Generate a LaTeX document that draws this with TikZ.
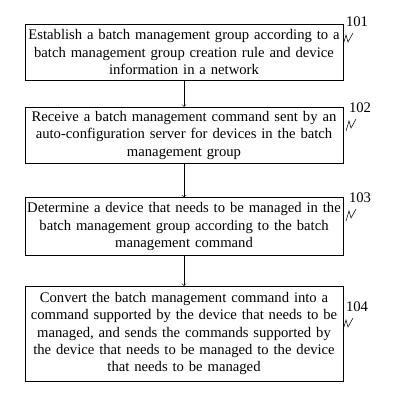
\documentclass[tikz,border=0pt]{standalone}
\usepackage{fontspec}
\setmainfont{Liberation Serif}
\usetikzlibrary{positioning}
\tikzset{
    stepbox/.style={
        draw,
        thin,
        inner sep=0pt,
        text width=236pt,
        minimum width=238.5pt,
        align=center,
        font=\fontsize{11}{13}\selectfont
    },
    line/.style={
        ->,
        thin
    },
    reflabel/.style={
        font=\fontsize{11}{13}\selectfont,
        inner sep=0pt
    }
}

\begin{document}
\begin{tikzpicture}[x=0.75pt, y=-0.75pt]
    \useasboundingbox (0,0) rectangle (400,402);

    \node[stepbox, minimum height=42pt] (establish) at (184,52)
        {Establish a batch management group according to a\\
         batch management group creation rule and device\\
         information in a network};
    \node[stepbox, minimum height=42pt, below=20pt of establish] (receive)
        {Receive a batch management command sent by an\\
         auto-configuration server for devices in the batch\\
         management group};
    \node[stepbox, minimum height=43.5pt, below=25.5pt of receive] (determine)
        {Determine a device that needs to be managed in the\\
         batch management group according to the batch\\
         management command};
    \node[stepbox, minimum height=71.25pt, below=22.5pt of determine] (convert)
        {Convert the batch management command into a\\
         command supported by the device that needs to be\\
         managed, and sends the commands supported by\\
         the device that needs to be managed to the device\\
         that needs to be managed};

    \draw[line] (establish) -- (receive);
    \draw[line] (receive) -- (determine);
    \draw[line] (determine) -- (convert);

    % reference numerals
    \node[reflabel] (n101) at (357,22) {101};
    \node[reflabel] (n102) at (360,108) {102};
    \node[reflabel] (n103) at (360,198) {103};
    \node[reflabel] (n104) at (357,307) {104};

    \foreach \n in {n101,n102,n103,n104}
        \draw[thin] (\n) ++(-14,23) -- ++(3,-10) -- ++(2,7) -- ++(5,-9);

\end{tikzpicture}
\end{document}
